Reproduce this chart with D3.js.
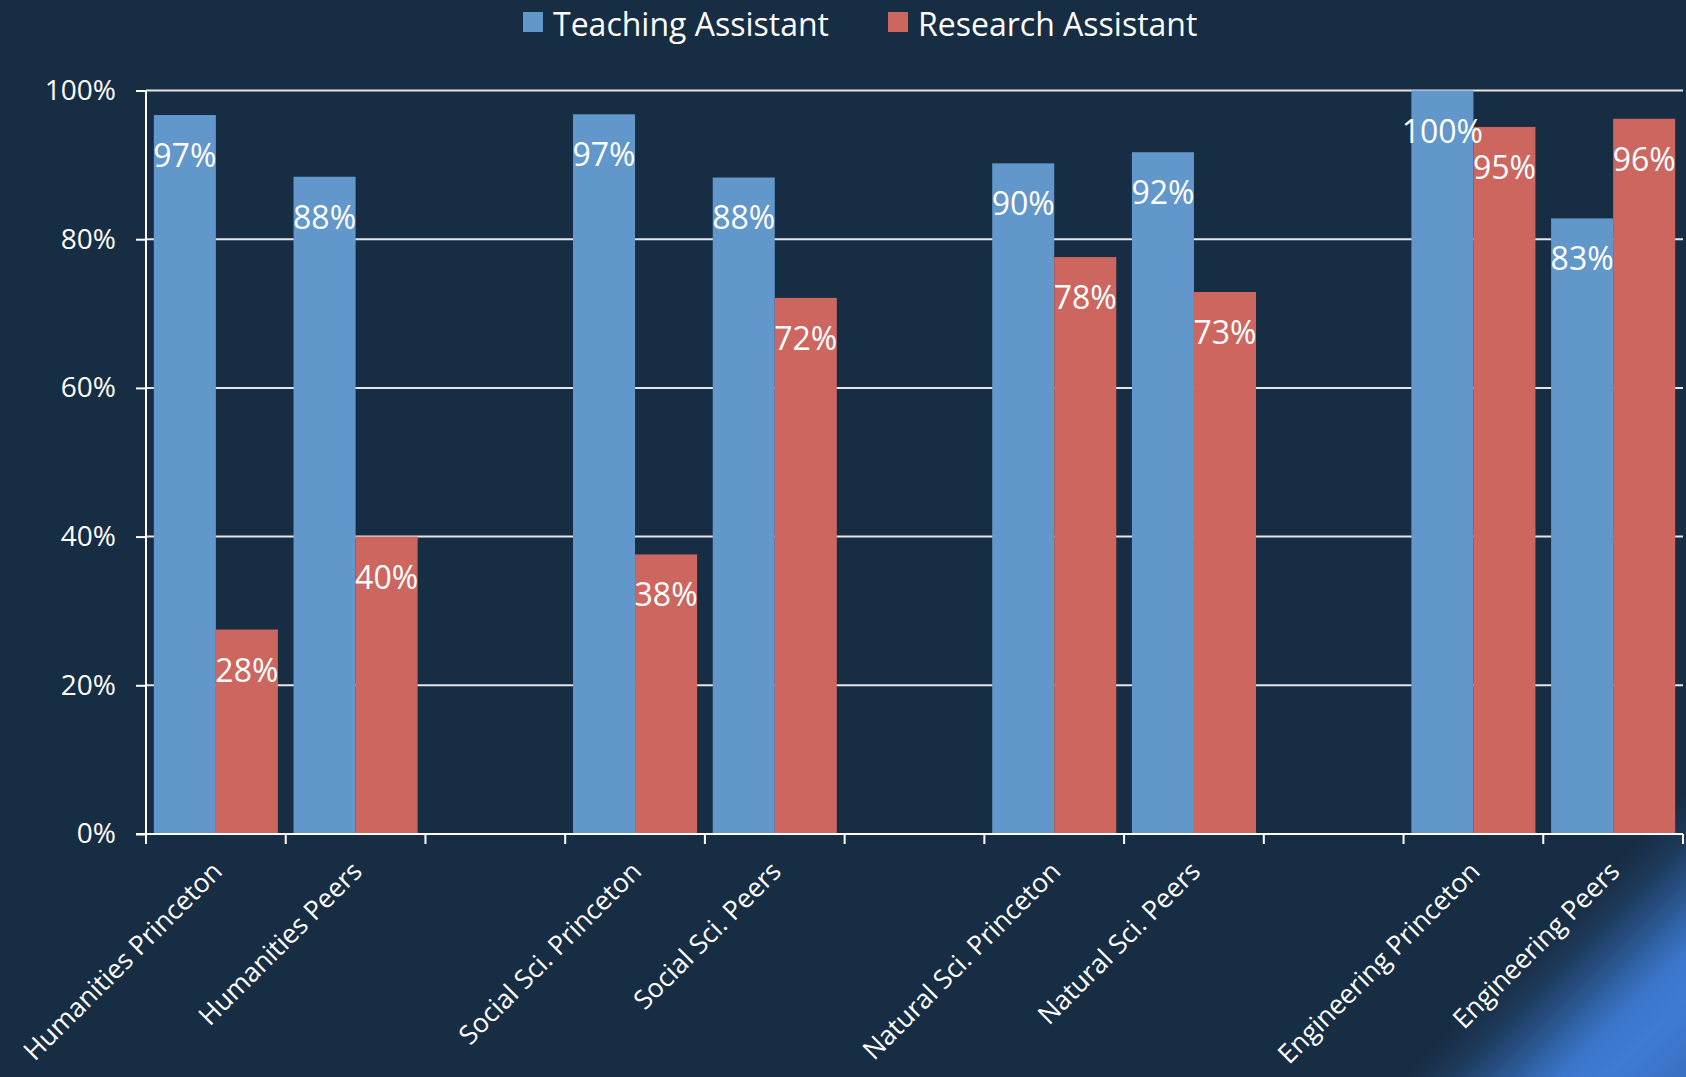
<!DOCTYPE html>
<html>
<head>
<meta charset="utf-8">
<script src="https://cdn.jsdelivr.net/npm/d3@7"></script>
<style>
  html, body { margin: 0; padding: 0; background: #172d44; }
  svg { display: block; }
  text { font-family: "Open Sans", "Noto Sans", sans-serif; fill: #ffffff; }
</style>
</head>
<body>
<svg id="chart" width="1686" height="1077"></svg>
<script>
const categories = ["Humanities Princeton", "Humanities Peers", "",
  "Social Sci. Princeton", "Social Sci. Peers", "",
  "Natural Sci. Princeton", "Natural Sci. Peers", "",
  "Engineering Princeton", "Engineering Peers"];
const teaching = [96.7, 88.4, null, 96.8, 88.3, null, 90.2, 91.7, null, 100, 82.8];
const research = [27.5, 40.0, null, 37.6, 72.1, null, 77.6, 72.9, null, 95.1, 96.2];
const seriesNames = ["Teaching Assistant", "Research Assistant"];
const seriesColors = ["#6197ca", "#cc665f"];
const yTicks = [0, 20, 40, 60, 80, 100];

const W = 1686, H = 1077;
const m = { left: 146, right: 1683, top: 90.5, bottom: 834 };

const svg = d3.select("#chart");

// background with diagonal bottom-right glow
const defs = svg.append("defs");
const grad = defs.append("linearGradient")
  .attr("id", "bg").attr("gradientUnits", "userSpaceOnUse")
  .attr("x1", 1240).attr("y1", 1240).attr("x2", 1382).attr("y2", 1382);
[[0, "#172d44"], [0.15, "#1d3859"], [0.38, "#2d5b98"], [0.56, "#3c76cc"], [0.72, "#3f7bd3"], [1, "#3a70c2"]]
  .forEach(([o, c]) => grad.append("stop").attr("offset", o).attr("stop-color", c));
svg.append("rect").attr("width", W).attr("height", H).attr("fill", "url(#bg)");

const x0 = d3.scaleBand().domain(d3.range(categories.length))
  .range([m.left, m.right]).paddingInner(0.112).paddingOuter(0.056);
const x1 = d3.scaleBand().domain([0, 1]).range([0, x0.bandwidth()]);
const y = d3.scaleLinear().domain([0, 100]).range([m.bottom, m.top]);

// gridlines
svg.append("g").selectAll("line").data(yTicks.filter(d => d > 0)).join("line")
  .attr("x1", m.left).attr("x2", m.right)
  .attr("y1", d => y(d)).attr("y2", d => y(d))
  .attr("stroke", "#e6e6e6").attr("stroke-width", 2);

// bars
const rows = categories.map((c, i) => ({ i, vals: [teaching[i], research[i]] }));
const groups = svg.append("g").selectAll("g").data(rows).join("g")
  .attr("transform", d => `translate(${x0(d.i)},0)`);
groups.selectAll("rect").data(d => d.vals.map((v, s) => ({ v, s })).filter(e => e.v != null))
  .join("rect")
  .attr("x", d => x1(d.s)).attr("width", x1.bandwidth())
  .attr("y", d => y(d.v)).attr("height", d => y(0) - y(d.v))
  .attr("fill", d => seriesColors[d.s]);
groups.selectAll("text").data(d => d.vals.map((v, s) => ({ v, s })).filter(e => e.v != null))
  .join("text")
  .attr("x", d => x1(d.s) + x1.bandwidth() / 2)
  .attr("y", d => y(d.v) + 52)
  .attr("text-anchor", "middle")
  .style("font-size", "32px")
  .text(d => Math.round(d.v) + "%");

// y axis
const yAxis = svg.append("g").attr("transform", `translate(${m.left},0)`)
  .call(d3.axisLeft(y).tickValues(yTicks).tickFormat(d => d + "%").tickSize(10).tickPadding(20));
yAxis.select(".domain").attr("stroke", "#ffffff").attr("stroke-width", 2)
  .attr("d", `M0,${m.top}V${m.bottom + 10}`);
yAxis.selectAll(".tick line").attr("stroke", "#ffffff").attr("stroke-width", 2);
yAxis.selectAll(".tick text").style("font-size", "28px").attr("fill", "#ffffff");

// x axis
const xg = svg.append("g");
xg.append("line").attr("x1", m.left - 10).attr("x2", m.right)
  .attr("y1", m.bottom).attr("y2", m.bottom)
  .attr("stroke", "#ffffff").attr("stroke-width", 2);
const boundaries = d3.range(categories.length + 1).map(k => m.left + k * x0.step());
xg.selectAll(".xt").data(boundaries).join("line").attr("class", "xt")
  .attr("x1", d => d).attr("x2", d => d)
  .attr("y1", m.bottom).attr("y2", m.bottom + 10)
  .attr("stroke", "#ffffff").attr("stroke-width", 2);
xg.selectAll(".xl").data(rows.filter(d => categories[d.i] !== "")).join("text")
  .attr("class", "xl")
  .attr("transform", d => `translate(${x0(d.i) + x0.bandwidth() / 2 + 8},${m.bottom + 39}) rotate(-45)`)
  .attr("text-anchor", "end")
  .style("font-size", "26.5px")
  .text(d => categories[d.i]);

// legend
const legend = svg.append("g");
const legendX = [523, 888];
seriesNames.forEach((name, s) => {
  legend.append("rect").attr("x", legendX[s]).attr("y", 12)
    .attr("width", 20).attr("height", 20).attr("fill", seriesColors[s]);
  legend.append("text").attr("x", legendX[s] + 30).attr("y", 36)
    .style("font-size", "32px").text(name);
});
</script>
</body>
</html>
